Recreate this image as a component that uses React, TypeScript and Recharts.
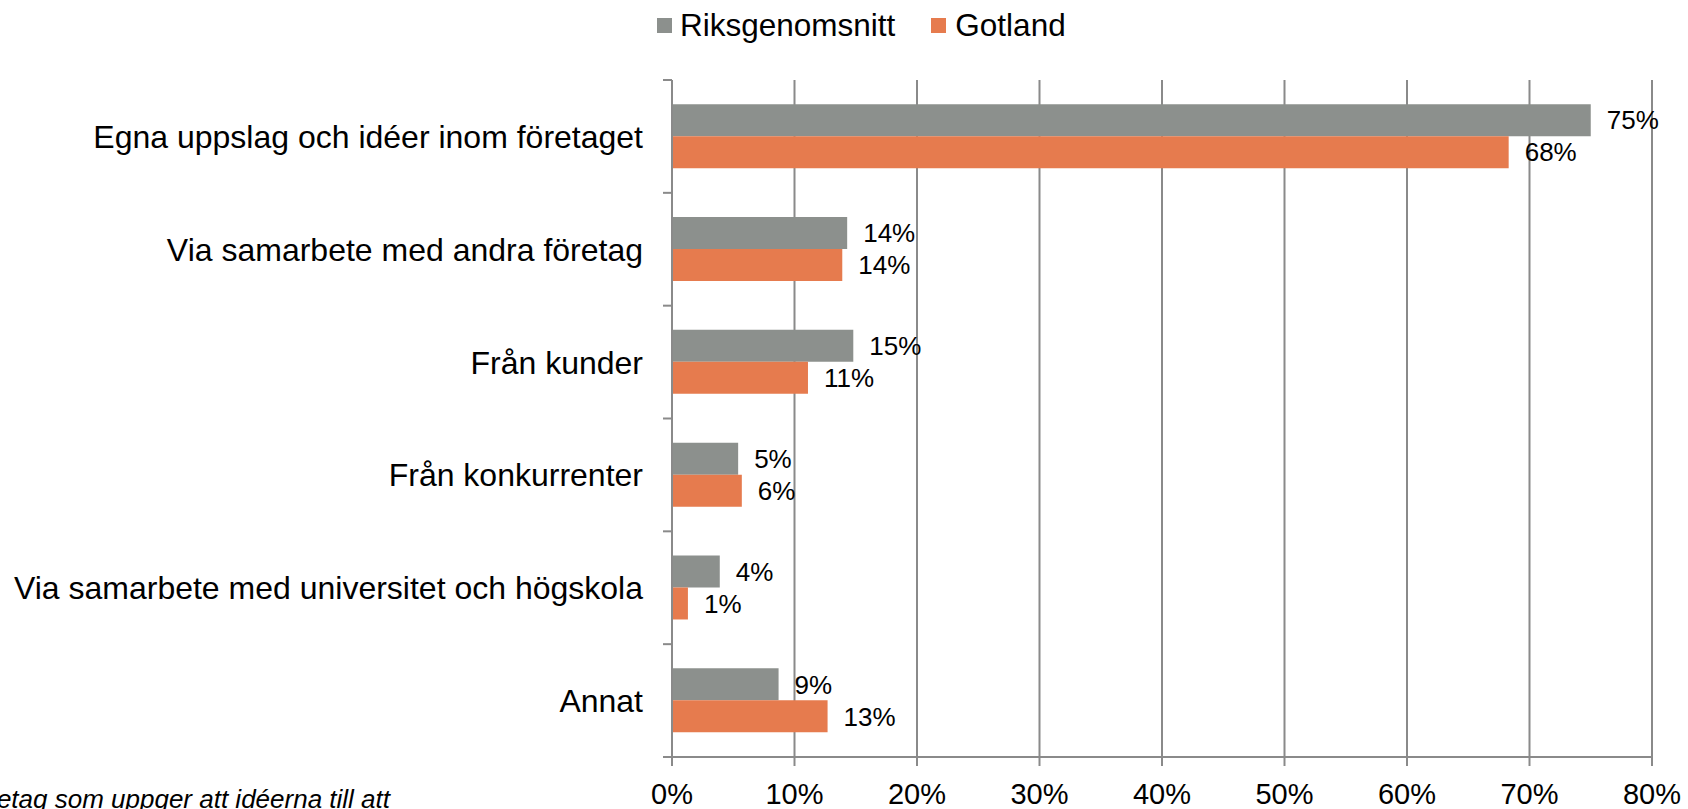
import React from 'react';
import { BarChart, Bar, XAxis, YAxis, CartesianGrid, LabelList } from 'recharts';

const categories = [
  'Egna uppslag och idéer inom företaget',
  'Via samarbete med andra företag',
  'Från kunder',
  'Från konkurrenter',
  'Via samarbete med universitet och högskola',
  'Annat',
];
const riksgenomsnitt = [75.0, 14.3, 14.8, 5.4, 3.9, 8.7];
const gotland = [68.3, 13.9, 11.1, 5.7, 1.3, 12.7];
const xTicks = [0, 10, 20, 30, 40, 50, 60, 70, 80];
const seriesNames = ['Riksgenomsnitt', 'Gotland'];
const footnote = 'etag som uppger att idéerna till att';

const data = categories.map((c, i) => ({ name: c, riks: riksgenomsnitt[i], gotland: gotland[i] }));

const FONT = '"Liberation Sans", Arial, Helvetica, sans-serif';
const GRID = '#8a8a8a';
const GRAY = '#8C908D';
const ORANGE = '#E67B4E';

const CategoryTick = (props: any) => {
  const { x, y, payload, index, visibleTicksCount, height } = props;
  const n = visibleTicksCount || categories.length;
  const band = (height || 677) / n;
  const lx1 = x + 20;
  const lx2 = x + 29;
  return (
    <g>
      <line x1={lx1} x2={lx2} y1={y - band / 2} y2={y - band / 2} stroke={GRID} strokeWidth={2} />
      {index === n - 1 && (
        <line x1={lx1} x2={lx2} y1={y + band / 2} y2={y + band / 2} stroke={GRID} strokeWidth={2} />
      )}
      <text x={x} y={y} dy="0.36em" textAnchor="end" fontSize={32} fill="#000" fontFamily={FONT}>
        {payload.value}
      </text>
    </g>
  );
};

export default function App() {
  return (
    <div
      style={{
        position: 'absolute',
        left: 0,
        top: 0,
        width: 1688,
        height: 809,
        overflow: 'hidden',
        background: '#fff',
        fontFamily: FONT,
      }}
    >
      <div style={{ position: 'absolute', left: 657, top: 10, height: 30, display: 'flex', alignItems: 'center', fontSize: 31.5, lineHeight: '30px', color: '#000' }}>
        <span style={{ display: 'inline-block', width: 15, height: 15, background: GRAY, marginRight: 8 }} />
        <span>{seriesNames[0]}</span>
        <span style={{ display: 'inline-block', width: 15, height: 15, background: ORANGE, marginLeft: 36, marginRight: 9 }} />
        <span>{seriesNames[1]}</span>
      </div>
      <BarChart
        width={1688}
        height={809}
        data={data}
        layout="vertical"
        margin={{ top: 80, right: 36, bottom: 22, left: 0 }}
        barCategoryGap="21.4%"
        barGap={0}
        style={{ fontFamily: FONT }}
      >
        <CartesianGrid horizontal={false} vertical={true} stroke={GRID} strokeWidth={2} />
        <XAxis
          type="number"
          domain={[0, 80]}
          ticks={xTicks}
          height={30}
          tickFormatter={(v: number) => `${v}%`}
          tickSize={9}
          tickMargin={17}
          axisLine={{ stroke: GRID, strokeWidth: 2 }}
          tickLine={{ stroke: GRID, strokeWidth: 2 }}
          tick={{ fontSize: 29, fill: '#000', fontFamily: FONT }}
          interval={0}
        />
        <YAxis
          type="category"
          dataKey="name"
          width={672}
          tickSize={9}
          tickMargin={20}
          tickLine={false}
          axisLine={{ stroke: GRID, strokeWidth: 2 }}
          tick={<CategoryTick />}
          interval={0}
        />
        <Bar dataKey="riks" name={seriesNames[0]} fill={GRAY} isAnimationActive={false}>
          <LabelList
            dataKey="riks"
            position="right"
            offset={16}
            formatter={(v: number) => `${Math.round(v)}%`}
            style={{ fontSize: 26, fill: '#000', fontFamily: FONT }}
          />
        </Bar>
        <Bar dataKey="gotland" name={seriesNames[1]} fill={ORANGE} isAnimationActive={false}>
          <LabelList
            dataKey="gotland"
            position="right"
            offset={16}
            formatter={(v: number) => `${Math.round(v)}%`}
            style={{ fontSize: 26, fill: '#000', fontFamily: FONT }}
          />
        </Bar>
      </BarChart>
      <svg width={1688} height={809} style={{ position: 'absolute', left: 0, top: 0, pointerEvents: 'none' }}>
        <text x={390} y={808} textAnchor="end" fontSize={26} fontStyle="italic" fill="#000" fontFamily={FONT}>
          {footnote}
        </text>
      </svg>
    </div>
  );
}
